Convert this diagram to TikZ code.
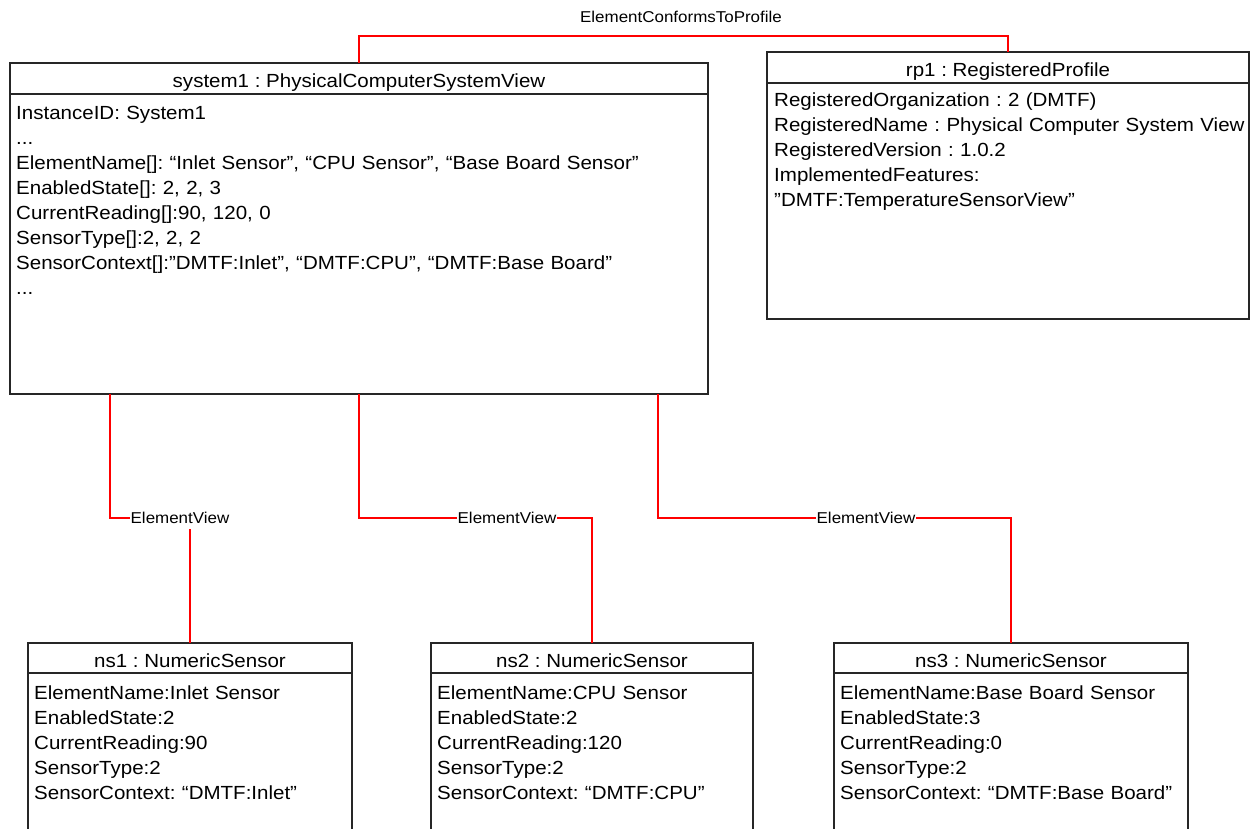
\documentclass[tikz,border=0pt]{standalone}
\usepackage{fontspec}
\setmainfont{Liberation Sans}[FakeStretch=1.08]
\usetikzlibrary{positioning}
\tikzset{assoc/.style={draw=red, line width=1.3pt}}

\begin{document}
\frenchspacing
\begin{tikzpicture}
        [
            x=1pt, y=-1pt,
            head/.style={draw=black!85, line width=1.3pt, inner sep=0pt, outer sep=0pt, minimum height=31pt, text height=18pt, text depth=0pt, anchor=north west, font=\fontsize{19}{23}\selectfont},
            body/.style={draw=black!85, line width=1.3pt, inner sep=0pt, outer sep=0pt, anchor=north west},
            attr/.style={inner sep=0pt, anchor=base west, text width=900pt, align=left, font=\fontsize{19}{25}\selectfont},
            lbl/.style={fill=white, inner xsep=1pt, inner ysep=5pt, font=\fontsize{15.7}{18}\selectfont},
        ]
    \useasboundingbox (0,0) rectangle (1251,829);
    \clip (0,0) rectangle (1251,829);

    % system instance
    \node[head, minimum width=698pt] (sys) at (10,63) {system1 : PhysicalComputerSystemView};
    \node[body, minimum width=698pt, minimum height=300pt] (sysbody) at (sys.south west) {};
    \node[attr] (sysattr) at ([xshift=6pt, yshift=-25.3pt]sysbody.north west)
        {InstanceID: System1\\
         ...\\
         ElementName[]: “Inlet Sensor”, “CPU Sensor”, “Base Board Sensor”\\
         EnabledState[]: 2, 2, 3\\
         CurrentReading[]:90, 120, 0\\
         SensorType[]:2, 2, 2\\
         SensorContext[]:”DMTF:Inlet”, “DMTF:CPU”, “DMTF:Base Board”\\
         ...};

    % registered profile
    \node[head, minimum width=482pt] (rp) at (767,52) {rp1 : RegisteredProfile};
    \node[body, minimum width=482pt, minimum height=236pt] (rpbody) at (rp.south west) {};
    \node[attr] (rpattr) at ([xshift=7pt, yshift=-24pt]rpbody.north west)
        {RegisteredOrganization : 2 (DMTF)\\
         RegisteredName : Physical Computer System View\\
         RegisteredVersion : 1.0.2\\
         ImplementedFeatures:\\
         ”DMTF:TemperatureSensorView”};

    % sensors
    \node[head, minimum width=324pt, minimum height=30pt] (ns1) at (28,643) {ns1 : NumericSensor};
    \node[body, minimum width=324pt, minimum height=200pt] (ns1body) at (ns1.south west) {};
    \node[attr] (ns1attr) at ([xshift=6pt, yshift=-26pt]ns1body.north west)
        {ElementName:Inlet Sensor\\
         EnabledState:2\\
         CurrentReading:90\\
         SensorType:2\\
         SensorContext: “DMTF:Inlet”};

    \node[head, minimum width=322pt, minimum height=30pt] (ns2) at (431,643) {ns2 : NumericSensor};
    \node[body, minimum width=322pt, minimum height=200pt] (ns2body) at (ns2.south west) {};
    \node[attr] (ns2attr) at ([xshift=6pt, yshift=-26pt]ns2body.north west)
        {ElementName:CPU Sensor\\
         EnabledState:2\\
         CurrentReading:120\\
         SensorType:2\\
         SensorContext: “DMTF:CPU”};

    \node[head, minimum width=354pt, minimum height=30pt] (ns3) at (834,643) {ns3 : NumericSensor};
    \node[body, minimum width=354pt, minimum height=200pt] (ns3body) at (ns3.south west) {};
    \node[attr] (ns3attr) at ([xshift=6pt, yshift=-26pt]ns3body.north west)
        {ElementName:Base Board Sensor\\
         EnabledState:3\\
         CurrentReading:0\\
         SensorType:2\\
         SensorContext: “DMTF:Base Board”};

    % associations
    \coordinate (ecpbend) at (684,36);
    \draw[assoc] (sys.north) |- (ecpbend) -| (rp.north);
    \node[lbl, fill=none] (ecp) at (681,17) {ElementConformsToProfile};

    \draw[assoc] ([xshift=100pt]sysbody.south west) -- ++(0,124) -| (ns1.north);
    \draw[assoc] (sysbody.south) -- ++(0,124) -| (ns2.north);
    \draw[assoc] ([xshift=-50pt]sysbody.south east) -- ++(0,124) -| (ns3.north);

    \node[lbl] (ev1) at (180,518) {ElementView};
    \node[lbl] (ev2) at (507,518) {ElementView};
    \node[lbl] (ev3) at (866,518) {ElementView};
\end{tikzpicture}
\end{document}
